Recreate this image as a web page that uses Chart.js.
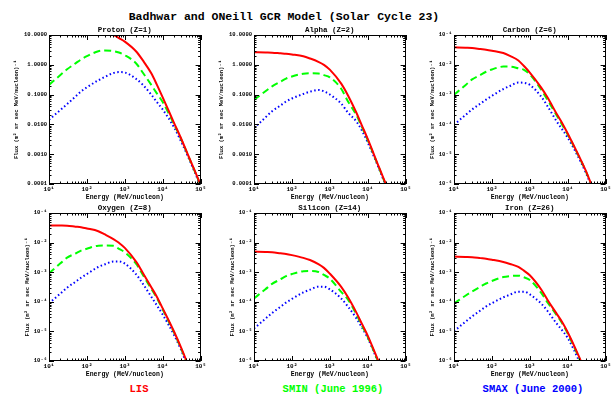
<!DOCTYPE html>
<html>
<head>
<meta charset="utf-8">
<script src="https://cdn.jsdelivr.net/npm/chart.js@4.4.0/dist/chart.umd.min.js"></script>
<style>
    body { margin: 0; background: #fff; width: 612px; height: 396px; position: relative; overflow: hidden;
           font-family: "Liberation Mono", "DejaVu Sans Mono", monospace; font-weight: bold; }
    canvas { position: absolute; }
    .txt { position: absolute; white-space: nowrap; transform: translate(-50%, -50%); }
</style>
</head>
<body>
<div class="txt" style="left:284px; top:16px; font-size:11.5px;">Badhwar and ONeill GCR Model (Solar Cycle 23)</div>
<div class="txt" style="left:139px; top:389px; font-size:10.5px; color:#ff0000;">LIS</div>
<div class="txt" style="left:333px; top:389px; font-size:10.5px; color:#00ff00;">SMIN (June 1996)</div>
<div class="txt" style="left:533px; top:389px; font-size:10.5px; color:#0000ff;">SMAX (June 2000)</div>

<script>
// kinetic energy grid, MeV/nucleon
const energy = [10, 20, 30, 50, 70, 100, 200, 300, 500, 700, 1000, 2000, 3000, 5000, 7000, 1e4, 2e4, 3e4, 5e4, 7e4, 1e5];

const protonLIS  = [30, 28, 26, 23, 21, 19, 15, 12.5, 10.2, 7.9, 6.0, 2.8, 1.4, 0.52, 0.217, 0.081, 0.0111, 0.00356, 0.00076, 0.00028, 0.000093];
const protonSMIN = [0.212, 0.455, 0.705, 1.12, 1.51, 1.95, 2.84, 3.03, 2.88, 2.58, 2.10, 1.11, 0.54, 0.211, 0.110, 0.056, 0.0100, 0.0034, 0.00074, 0.00027, 0.000091];
const protonSMAX = [0.0143, 0.0305, 0.0478, 0.0867, 0.128, 0.176, 0.301, 0.394, 0.53, 0.57, 0.55, 0.335, 0.212, 0.100, 0.056, 0.0316, 0.0079, 0.0028, 0.00068, 0.00025, 0.000085];

const alphaLIS  = [2.63, 2.58, 2.56, 2.43, 2.35, 2.22, 1.93, 1.63, 1.26, 1.0, 0.687, 0.234, 0.0955, 0.0251, 0.0093, 0.00326, 0.000358, 0.0001, 0.0000224, 0.0000079, 0.0000028];
const alphaSMIN = [0.066, 0.129, 0.188, 0.271, 0.344, 0.407, 0.502, 0.52, 0.51, 0.449, 0.38, 0.157, 0.060, 0.0209, 0.0083, 0.0030, 0.00034, 0.000095, 0.000021, 0.0000076, 0.0000027];
const alphaSMAX = [0.0075, 0.0171, 0.0277, 0.0433, 0.0582, 0.0738, 0.105, 0.125, 0.143, 0.129, 0.101, 0.050, 0.025, 0.0126, 0.0063, 0.0025, 0.00032, 0.000089, 0.00002, 0.0000071, 0.0000025];

const carbonLIS  = [0.0386, 0.0374, 0.0366, 0.0338, 0.0321, 0.0297, 0.0248, 0.0198, 0.0140, 0.0091, 0.0055, 0.00172, 0.00077, 0.000238, 0.000116, 0.0000497, 0.00000845, 0.0000028, 0.00000055, 0.0000002, 0.00000007];
const carbonSMIN = [0.00098, 0.00207, 0.00324, 0.00459, 0.00585, 0.00698, 0.0087, 0.0087, 0.0076, 0.0068, 0.00477, 0.00147, 0.00063, 0.00021, 0.000102, 0.000046, 0.0000081, 0.0000027, 0.00000053, 0.00000019, 0.000000068];
const carbonSMAX = [0.000097, 0.000206, 0.000318, 0.000501, 0.000678, 0.000906, 0.00154, 0.00195, 0.00253, 0.00248, 0.00212, 0.00085, 0.00039, 0.000132, 0.000071, 0.000036, 0.0000071, 0.0000024, 0.0000005, 0.00000018, 0.000000065];

const oxygenLIS  = [0.0381, 0.0376, 0.0370, 0.0346, 0.0331, 0.0301, 0.0242, 0.0188, 0.0132, 0.00984, 0.00665, 0.00224, 0.000946, 0.00031, 0.000149, 0.0000597, 0.0000097, 0.000003, 0.0000006, 0.00000021, 0.000000068];
const oxygenSMIN = [0.00092, 0.00199, 0.0031, 0.00428, 0.00535, 0.00622, 0.00789, 0.0080, 0.00776, 0.00617, 0.00469, 0.00189, 0.00081, 0.000275, 0.000135, 0.000055, 0.0000091, 0.0000028, 0.00000056, 0.0000002, 0.000000065];
const oxygenSMAX = [0.000088, 0.000191, 0.0003, 0.000475, 0.000647, 0.000869, 0.0015, 0.00185, 0.00229, 0.00229, 0.00196, 0.00084, 0.000405, 0.000148, 0.000076, 0.000037, 0.0000075, 0.0000025, 0.0000005, 0.00000018, 0.00000006];

const siliconLIS  = [0.0050, 0.00483, 0.00472, 0.00436, 0.00414, 0.00378, 0.00305, 0.00258, 0.00188, 0.0014, 0.000895, 0.00032, 0.000145, 0.000044, 0.0000183, 0.0000072, 0.00000087, 0.00000025, 0.00000005, 0.000000018, 0.000000006];
const siliconSMIN = [0.00013, 0.000265, 0.000403, 0.000577, 0.000736, 0.000867, 0.00108, 0.0011, 0.00102, 0.00081, 0.000607, 0.000216, 0.00012, 0.000038, 0.000016, 0.0000065, 0.0000008, 0.00000023, 0.000000046, 0.000000017, 0.0000000055];
const siliconSMAX = [0.0000125, 0.0000268, 0.0000419, 0.0000679, 0.000094, 0.000125, 0.000207, 0.000257, 0.000324, 0.000324, 0.000264, 0.000129, 0.0000695, 0.000028, 0.0000138, 0.000006, 0.00000076, 0.00000022, 0.000000044, 0.000000016, 0.000000005];

const ironLIS  = [0.00338, 0.00327, 0.0032, 0.00299, 0.00286, 0.00265, 0.00222, 0.0019, 0.00151, 0.00113, 0.000789, 0.000261, 0.000111, 0.0000413, 0.0000215, 0.0000094, 0.00000138, 0.0000004, 0.00000008, 0.00000003, 0.00000001];
const ironSMIN = [0.000088, 0.00016, 0.000223, 0.000326, 0.000415, 0.000504, 0.000685, 0.00074, 0.000766, 0.000676, 0.000547, 0.000201, 0.000091, 0.000037, 0.0000195, 0.0000085, 0.00000126, 0.00000037, 0.000000075, 0.000000028, 0.0000000095];
const ironSMAX = [0.0000102, 0.000021, 0.000032, 0.000051, 0.000069, 0.00009, 0.000141, 0.000174, 0.00022, 0.00022, 0.000178, 0.000087, 0.000047, 0.000019, 0.0000112, 0.000006, 0.000001, 0.0000003, 0.00000006, 0.000000022, 0.0000000075];

const xTickValues = [10, 100, 1000, 10000, 100000];
const xTickLabels = ['10¹', '10²', '10³', '10⁴', '10⁵'];
const lightTickValues = [10, 1, 0.1, 0.01, 0.001, 0.0001];
const lightTickLabels = ['10.0000', '1.0000', '0.1000', '0.0100', '0.0010', '0.0001'];
const heavyTickValues = [1e-1, 1e-2, 1e-3, 1e-4, 1e-5, 1e-6];
const heavyTickLabels = ['10⁻¹', '10⁻²', '10⁻³', '10⁻⁴', '10⁻⁵', '10⁻⁶'];

const FONT = '"Liberation Mono", "DejaVu Sans Mono", monospace';
const PLOT_W = 152;

// frame + inward IDL-style ticks on all four sides
const frameTicks = {
    id: 'frameTicks',
    afterDatasetsDraw(chart) {
        const {ctx, chartArea: a, scales: {x, y}} = chart;
        ctx.save();
        ctx.strokeStyle = '#000';
        ctx.lineWidth = 1;
        ctx.strokeRect(Math.round(a.left) + 0.5, Math.round(a.top) + 0.5, Math.round(a.width) - 1, Math.round(a.height) - 1);
        ctx.beginPath();
        const doAxis = (scale, horiz) => {
            const lo = Math.round(Math.log10(scale.min)), hi = Math.round(Math.log10(scale.max));
            for (let d = lo; d <= hi; d++) {
                for (let m = 1; m <= 9; m++) {
                    const v = m * Math.pow(10, d);
                    if (v > scale.max * 1.0001) break;
                    const p = Math.round(scale.getPixelForValue(v)) + 0.5;
                    const len = m === 1 ? 5 : 2.5;
                    if (horiz) {
                        ctx.moveTo(p, a.bottom); ctx.lineTo(p, a.bottom - len);
                        ctx.moveTo(p, a.top); ctx.lineTo(p, a.top + len);
                    } else {
                        ctx.moveTo(a.left, p); ctx.lineTo(a.left + len, p);
                        ctx.moveTo(a.right, p); ctx.lineTo(a.right - len, p);
                    }
                }
            }
        };
        doAxis(x, true);
        doAxis(y, false);
        ctx.stroke();
        ctx.restore();
    }
};

const panels = [
    {title: 'Proton (Z=1)',   lis: protonLIS,  smin: protonSMIN,  smax: protonSMAX,  heavy: false, left: 49,  top: 35},
    {title: 'Alpha (Z=2)',    lis: alphaLIS,   smin: alphaSMIN,   smax: alphaSMAX,   heavy: false, left: 254, top: 35},
    {title: 'Carbon (Z=6)',   lis: carbonLIS,  smin: carbonSMIN,  smax: carbonSMAX,  heavy: true,  left: 454, top: 35},
    {title: 'Oxygen (Z=8)',   lis: oxygenLIS,  smin: oxygenSMIN,  smax: oxygenSMAX,  heavy: true,  left: 49,  top: 213},
    {title: 'Silicon (Z=14)', lis: siliconLIS, smin: siliconSMIN, smax: siliconSMAX, heavy: true,  left: 254, top: 213},
    {title: 'Iron (Z=26)',    lis: ironLIS,    smin: ironSMIN,    smax: ironSMAX,    heavy: true,  left: 454, top: 213}
];

const toXY = arr => energy.map((e, i) => ({x: e, y: arr[i]}));

panels.forEach(p => {
    const axisW = p.heavy ? 25 : 36;
    const titleH = 15, xAxisH = 17, padR = 7;
    const plotH = p.top === 35 ? 149 : 148;
    const canvas = document.createElement('canvas');
    canvas.width = axisW + PLOT_W + padR;
    canvas.height = titleH + plotH + xAxisH;
    canvas.style.left = (p.left - axisW) + 'px';
    canvas.style.top = (p.top - titleH) + 'px';
    document.body.appendChild(canvas);

    const yVals = p.heavy ? heavyTickValues : lightTickValues;
    const yLabs = p.heavy ? heavyTickLabels : lightTickLabels;

    new Chart(canvas, {
        type: 'line',
        data: {
            datasets: [
                {label: 'LIS', data: toXY(p.lis), borderColor: '#ff0000', borderWidth: 2},
                {label: 'SMIN', data: toXY(p.smin), borderColor: '#00ff00', borderWidth: 2, borderDash: [7, 4]},
                {label: 'SMAX', data: toXY(p.smax), borderColor: '#0000ff', borderWidth: 2, borderDash: [1.5, 2.5]}
            ]
        },
        options: {
            responsive: false,
            animation: false,
            layout: {padding: {top: 0, right: padR, bottom: 0, left: 0}},
            elements: {point: {radius: 0}, line: {cubicInterpolationMode: 'monotone'}},
            plugins: {
                legend: {display: false},
                tooltip: {enabled: false},
                title: {
                    display: true, text: p.title, color: '#000', fullSize: false,
                    font: {family: FONT, size: 7.5, weight: 'bold', lineHeight: 1.2},
                    padding: {top: 5.5, bottom: 0.5}
                }
            },
            scales: {
                x: {
                    type: 'logarithmic', min: 10, max: 1e5,
                    grid: {display: false, drawTicks: false}, border: {display: false},
                    afterBuildTicks: s => { s.ticks = xTickValues.map(v => ({value: v})); },
                    afterFit: s => { s.height = xAxisH; },
                    ticks: {
                        autoSkip: false, maxRotation: 0, padding: 2, color: '#000',
                        font: {family: FONT, size: 6, weight: 'bold'},
                        callback: v => xTickLabels[xTickValues.indexOf(v)]
                    },
                    title: {
                        display: true, text: 'Energy (MeV/nucleon)', color: '#000', padding: 0,
                        font: {family: FONT, size: 6.5, weight: 'bold', lineHeight: 1.2}
                    }
                },
                y: {
                    type: 'logarithmic', min: yVals[yVals.length - 1], max: yVals[0],
                    grid: {display: false, drawTicks: false}, border: {display: false},
                    afterBuildTicks: s => { s.ticks = yVals.map(v => ({value: v})); },
                    afterFit: s => { s.width = axisW; },
                    ticks: {
                        autoSkip: false, padding: 2, color: '#000',
                        font: {family: FONT, size: 5.5, weight: 'bold'},
                        callback: v => yLabs[yVals.findIndex(t => Math.abs(t - v) / t < 1e-6)]
                    },
                    title: {
                        display: true, text: 'Flux (m² sr sec MeV/nucleon)⁻¹', color: '#000', padding: 0,
                        font: {family: FONT, size: 5.5, weight: 'bold', lineHeight: 1.2}
                    }
                }
            }
        },
        plugins: [frameTicks]
    });
});
</script>
</body>
</html>
